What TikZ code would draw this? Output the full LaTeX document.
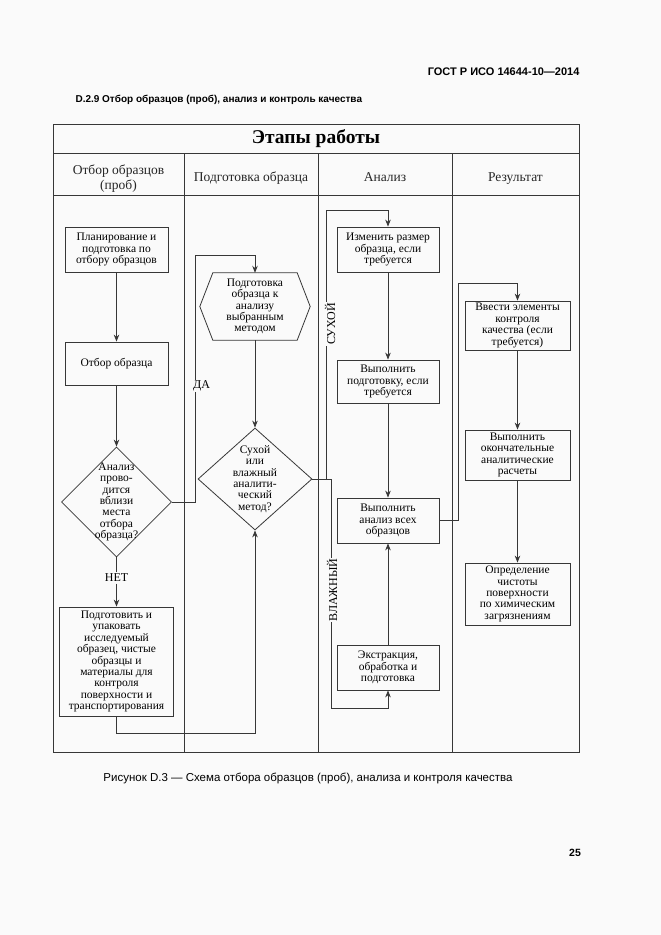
\documentclass[tikz,border=0pt]{standalone}
\usepackage{fontspec}
\setmainfont{Liberation Serif}
\newfontfamily\hdrfont{Liberation Sans}
\usetikzlibrary{arrows.meta,calc,shapes.geometric}
\definecolor{bg}{RGB}{250,250,250}
\definecolor{ln}{RGB}{55,55,55}
\begin{document}
\begin{tikzpicture}[x=1pt,y=-1pt,
  lnk/.style={draw=ln, line width=0.8pt},
  arr/.style={lnk, -{Stealth[length=7pt,width=5.5pt]}},
  box/.style={draw=ln, line width=0.8pt, align=center, inner sep=1pt,
    font=\fontsize{11.5}{11.4}\selectfont},
  txt/.style={align=center, inner sep=0pt, font=\fontsize{11.5}{11.4}\selectfont},
  dia/.style={draw=ln, line width=0.8pt, shape=diamond, inner sep=0pt},
  lbl/.style={fill=bg, inner sep=1pt, font=\fontsize{12}{12}\selectfont},
  hdr/.style={align=center, font=\fontsize{13.5}{14.5}\selectfont, text=black!85}
]
\fill[bg] (0,0) rectangle (661,935);
\useasboundingbox (0,0) rectangle (661,935);

% page texts
\node[anchor=east, font=\hdrfont\bfseries\fontsize{11}{12}\selectfont] (gost) at (583,72) {ГОСТ Р ИСО 14644-10—2014};
\node[anchor=west, font=\hdrfont\bfseries\fontsize{10}{11}\selectfont] (sect) at (72,100) {D.2.9 Отбор образцов (проб), анализ и контроль качества};
\node[font=\hdrfont\fontsize{11.5}{12}\selectfont] (capt) at (308,778) {Рисунок D.3 — Схема отбора образцов (проб), анализа и контроля качества};
\node[font=\hdrfont\bfseries\fontsize{10.5}{12}\selectfont] (pgno) at (575,853) {25};

% frame and lanes
\coordinate (fnw) at (53,124);
\coordinate (fse) at (579,752);
\draw[lnk] (fnw) rectangle (fse);
\draw[lnk] (53,153) -- (579,153);
\draw[lnk] (53,195) -- (579,195);
\draw[lnk] (184,153) -- (184,752);
\draw[lnk] (318,153) -- (318,752);
\draw[lnk] (452,153) -- (452,752);

\node[font=\bfseries\fontsize{19.5}{22}\selectfont] (title) at (316,139) {Этапы работы};
\node[hdr] (h1) at (118.5,178.5) {Отбор образцов\\(проб)};
\node[hdr, anchor=base] (h2) at (251,181) {Подготовка образца};
\node[hdr, anchor=base] (h3) at (385,181) {Анализ};
\node[hdr, anchor=base] (h4) at (515.5,181) {Результат};

% lane 1
\node[box, minimum width=103pt, minimum height=45pt] (p1) at (116.5,249.5) {Планирование и\\подготовка по\\отбору образцов};
\node[box, minimum width=103pt, minimum height=43pt] (p2) at (116.5,363.5) {Отбор образца};
\node[dia, minimum width=110pt, minimum height=110pt] (d1) at (116.5,502) {};
\node[txt] (d1t) at (116.5,502) {Анализ\\прово-\\дится\\вблизи\\места\\отбора\\образца?};
\node[font=\fontsize{12}{12}\selectfont, inner sep=1.5pt] (net) at (116.5,578) {НЕТ};
\node[box, minimum width=114pt, minimum height=109pt] (p3) at (116.5,661.5) {Подготовить и\\упаковать\\исследуемый\\образец, чистые\\образцы и\\материалы для\\контроля\\поверхности и\\транспортирования};

% lane 2
\node[txt, minimum width=110pt, minimum height=67pt] (hex) at (255,306.5) {Подготовка\\образца к\\анализу\\выбранным\\методом};
\draw[lnk] ($(hex.north west)+(13,0)$) -- ($(hex.north east)+(-13,0)$) -- (hex.east)
  -- ($(hex.south east)+(-13,0)$) -- ($(hex.south west)+(13,0)$) -- (hex.west) -- cycle;
\node[dia, minimum width=114pt, minimum height=102pt] (d2) at (255,479) {};
\node[txt] (d2t) at (255,479) {Сухой\\или\\влажный\\аналити-\\ческий\\метод?};

% lane 3
\node[box, minimum width=102pt, minimum height=45pt] (a1) at (388,249.5) {Изменить размер\\образца, если\\требуется};
\node[box, minimum width=102pt, minimum height=43pt] (a2) at (388,381.5) {Выполнить\\подготовку, если\\требуется};
\node[box, minimum width=102pt, minimum height=45pt] (a3) at (388,520.5) {Выполнить\\анализ всех\\образцов};
\node[box, minimum width=102pt, minimum height=45pt] (e1) at (388,667.5) {Экстракция,\\обработка и\\подготовка};

% lane 4
\node[box, minimum width=105pt, minimum height=49pt] (r1) at (517.5,325.5) {Ввести элементы\\контроля\\качества (если\\требуется)};
\node[box, minimum width=105pt, minimum height=50pt] (r2) at (517.5,455) {Выполнить\\окончательные\\аналитические\\расчеты};
\node[box, minimum width=105pt, minimum height=62pt] (r3) at (517.5,594) {Определение\\чистоты\\поверхности\\по химическим\\загрязнениям};

% connectors lane 1
\draw[arr] (p1.south) -- (p2.north);
\draw[arr] (p2.south) -- (d1.north);
\draw[lnk] (d1.south) -- (net.north);
\draw[arr] (net.south) -- (p3.north);
\draw[arr] (p3.south) -- (116.5,733) -- (d2.south |- 0,733) -- (d2.south);

% ДА branch
\draw[arr] (d1.east) -- (195.7,502) -- (195.7,255) -- (hex.north |- 0,255) -- (hex.north);
\node[lbl] (da) at (201.5,386) {ДА};

\draw[arr] (hex.south) -- (d2.north);

% dry / wet branches
\coordinate (dj) at (326.7,479);
\coordinate (wj) at (331.5,479);
\draw[lnk] (d2.east) -- (wj);
\draw[arr] (dj) -- (326.7,210) -- (a1.north |- 0,210) -- (a1.north);
\node[lbl, rotate=90] (dry) at (330,324) {СУХОЙ};
\draw[arr] (wj) -- (331.5,708) -- (e1.south |- 0,708) -- (e1.south);
\node[lbl, rotate=90] (wet) at (332,590) {ВЛАЖНЫЙ};

\draw[arr] (a1.south) -- (a2.north);
\draw[arr] (a2.south) -- (a3.north);
\draw[arr] (e1.north) -- (a3.south);

% to results
\draw[arr] (a3.east) -- (458,520.5) -- (458,283) -- (r1.north |- 0,283) -- (r1.north);
\draw[arr] (r1.south) -- (r2.north);
\draw[arr] (r2.south) -- (r3.north);
\end{tikzpicture}
\end{document}
